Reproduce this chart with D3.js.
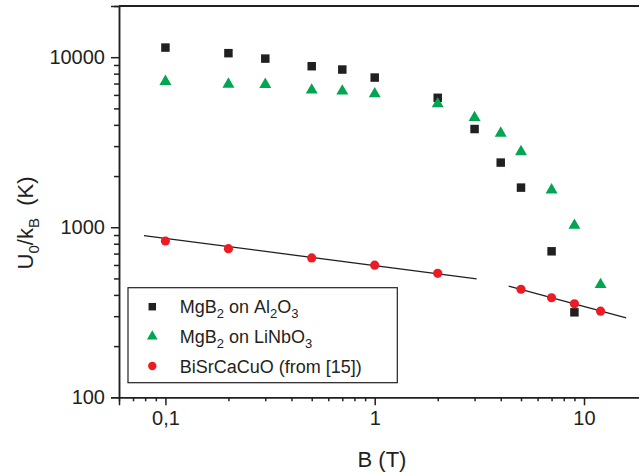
<!DOCTYPE html>
<html>
<head>
<meta charset="utf-8">
<script src="https://cdn.jsdelivr.net/npm/d3@7"></script>
<style>
  body { margin: 0; background: #fff; }
  svg { font-family: 'Liberation Sans', Arial, sans-serif; }
</style>
</head>
<body>
<div id="chart"></div>
<script>
// B (T) values and U0/kB (K)
const bMgB2Al = [0.1, 0.2, 0.3, 0.5, 0.7, 1, 2, 3, 4, 5, 7, 9];
const uMgB2Al = [11390, 10560, 9810, 8850, 8460, 7590, 5770, 3780, 2400, 1710, 722, 316];

const bMgB2Li = [0.1, 0.2, 0.3, 0.5, 0.7, 1, 2, 3, 4, 5, 7, 9, 12];
const uMgB2Li = [7300, 7030, 7000, 6490, 6400, 6170, 5385, 4470, 3620, 2820, 1680, 1040, 466];

const bBiSr = [0.1, 0.2, 0.5, 1, 2, 5, 7, 9, 12];
const uBiSr = [830, 748, 660, 598, 536, 432, 385, 355, 321];

// fitted straight lines (log-log), end points
const fitLow = [[0.079, 893], [3.07, 497]];
const fitHigh = [[4.37, 450], [15.9, 293]];

const xTickValues = [0.1, 1, 10];
const xTickLabels = ['0,1', '1', '10'];
const yTickValues = [100, 1000, 10000];

const width = 639, height = 473;
const margin = { top: 6, left: 119, bottom: 75.7 };
const ink = '#231f20';

const x = d3.scaleLog().domain([0.06, 20]).range([margin.left, 647]);
const y = d3.scaleLog().domain([100, 20000]).range([height - margin.bottom, margin.top]);

const svg = d3.select('#chart').append('svg')
    .attr('width', width)
    .attr('height', height);

const y0 = y.range()[0];

// minor ticks
const xMinor = [];
[0.01, 0.1, 1, 10].forEach((dec) => {
  for (let k = 2; k <= 9; k++) {
    const v = k * dec;
    if (v >= 0.06 && v <= 20) xMinor.push(v);
  }
});
const yMinor = [];
[100, 1000, 10000].forEach((dec) => {
  for (let k = 2; k <= 9; k++) {
    const v = k * dec;
    if (v <= 20000) yMinor.push(v);
  }
});

const xAxis = d3.axisBottom(x)
    .tickValues(xTickValues)
    .tickFormat((d, i) => xTickLabels[i])
    .tickSize(8)
    .tickPadding(6);
const xAxisMinor = d3.axisBottom(x)
    .tickValues(xMinor)
    .tickFormat('')
    .tickSize(4)
    .tickSizeOuter(0);

const yAxis = d3.axisLeft(y)
    .tickValues(yTickValues)
    .tickFormat(d3.format('d'))
    .tickSize(8)
    .tickPadding(6);
const yAxisMinor = d3.axisLeft(y)
    .tickValues(yMinor)
    .tickFormat('')
    .tickSize(5)
    .tickSizeOuter(0);

svg.append('g')
    .attr('class', 'x axis')
    .attr('transform', `translate(0, ${y0})`)
    .call(xAxisMinor);
svg.append('g')
    .attr('class', 'x axis')
    .attr('transform', `translate(0, ${y0})`)
    .call(xAxis);

svg.append('g')
    .attr('class', 'y axis')
    .attr('transform', `translate(${margin.left}, 0)`)
    .call(yAxisMinor);
svg.append('g')
    .attr('class', 'y axis')
    .attr('transform', `translate(${margin.left}, 0)`)
    .call(yAxis);

svg.selectAll('.axis path, .axis line')
    .attr('stroke', ink)
    .attr('stroke-width', 1.5);
svg.selectAll('.axis text')
    .attr('fill', ink)
    .style('font-size', '20px');

// top frame line
svg.append('line')
    .attr('x1', margin.left)
    .attr('x2', x.range()[1])
    .attr('y1', margin.top)
    .attr('y2', margin.top)
    .attr('stroke', ink)
    .attr('stroke-width', 1.8);

// axis titles
svg.append('text')
    .attr('x', 382)
    .attr('y', 466.5)
    .attr('text-anchor', 'middle')
    .attr('fill', ink)
    .style('font-size', '22px')
    .text('B (T)');

const yTitle = svg.append('text')
    .attr('transform', 'translate(33, 223) rotate(-90)')
    .attr('text-anchor', 'middle')
    .attr('fill', ink)
    .style('font-size', '22px');
yTitle.append('tspan').text('U');
yTitle.append('tspan').attr('dy', 6).style('font-size', '15px').text('0');
yTitle.append('tspan').attr('dy', -6).text('/k');
yTitle.append('tspan').attr('dy', 6).style('font-size', '15px').text('B');
yTitle.append('tspan').attr('dy', -6).text('\u00a0 (K)');

// fit lines
const line = d3.line().x((d) => x(d[0])).y((d) => y(d[1]));
[fitLow, fitHigh].forEach((seg) => {
  svg.append('path')
      .attr('d', line(seg))
      .attr('fill', 'none')
      .attr('stroke', ink)
      .attr('stroke-width', 1.3);
});

const black = '#231f20';
const green = '#00a651';
const red = '#ed1c24';

const sqSize = d3.symbol().type(d3.symbolSquare).size(72);
const triSize = d3.symbol().type(d3.symbolTriangle).size(62);

const al = bMgB2Al.map((b, i) => ({ b, u: uMgB2Al[i] }));
const li = bMgB2Li.map((b, i) => ({ b, u: uMgB2Li[i] }));
const bi = bBiSr.map((b, i) => ({ b, u: uBiSr[i] }));

svg.selectAll('.al')
    .data(al)
  .enter()
    .append('path')
    .attr('class', 'al')
    .attr('d', sqSize)
    .attr('transform', (d) => `translate(${x(d.b)},${y(d.u)})`)
    .attr('fill', black);

svg.selectAll('.li')
    .data(li)
  .enter()
    .append('path')
    .attr('class', 'li')
    .attr('d', triSize)
    .attr('transform', (d) => `translate(${x(d.b)},${y(d.u) + 1})`)
    .attr('fill', green);

svg.selectAll('.bi')
    .data(bi)
  .enter()
    .append('circle')
    .attr('class', 'bi')
    .attr('cx', (d) => x(d.b))
    .attr('cy', (d) => y(d.u))
    .attr('r', 4.6)
    .attr('fill', red);

// legend
const legend = svg.append('g');
legend.append('rect')
    .attr('x', 128)
    .attr('y', 287.7)
    .attr('width', 269.3)
    .attr('height', 95)
    .attr('fill', '#fff')
    .attr('stroke', ink)
    .attr('stroke-width', 1.2);

const legendRows = [
  { mark: 'square', color: black, parts: [['MgB', 0], ['2', 1], [' on Al', 0], ['2', 1], ['O', 0], ['3', 1]] },
  { mark: 'triangle', color: green, parts: [['MgB', 0], ['2', 1], [' on LiNbO', 0], ['3', 1]] },
  { mark: 'circle', color: red, parts: [['BiSrCaCuO (from [15])', 0]] },
];
const rowY = [306.7, 336.5, 366];

legendRows.forEach((row, i) => {
  const cy = rowY[i];
  if (row.mark === 'square') {
    legend.append('path')
        .attr('d', d3.symbol().type(d3.symbolSquare).size(56)())
        .attr('transform', `translate(152.3,${cy})`)
        .attr('fill', row.color);
  } else if (row.mark === 'triangle') {
    legend.append('path')
        .attr('d', d3.symbol().type(d3.symbolTriangle).size(50)())
        .attr('transform', `translate(152.3,${cy})`)
        .attr('fill', row.color);
  } else {
    legend.append('circle')
        .attr('cx', 152.3)
        .attr('cy', cy)
        .attr('r', 4.2)
        .attr('fill', row.color);
  }
  const t = legend.append('text')
      .attr('x', 179.7)
      .attr('y', cy + 6.5)
      .attr('fill', ink)
      .style('font-size', '18px');
  let sub = 0;
  row.parts.forEach(([s, isSub]) => {
    const dy = (isSub ? 5 : 0) - (sub ? 5 : 0);
    t.append('tspan')
        .attr('dy', dy)
        .style('font-size', isSub ? '13px' : '18px')
        .text(s.replace(/ /g, '\u00a0'));
    sub = isSub;
  });
});
</script>
</body>
</html>
